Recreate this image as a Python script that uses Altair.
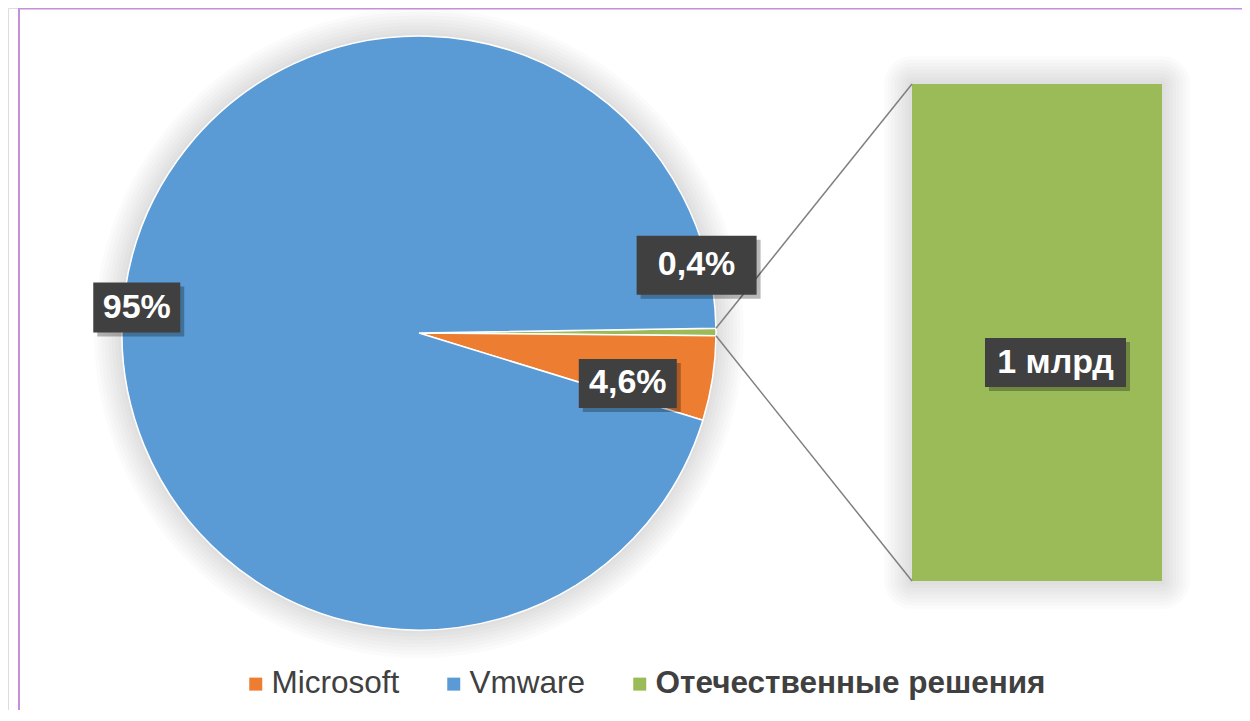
import math
import altair as alt
import pandas as pd

# ---------------- data ----------------
pie_categories = ["Отечественные решения", "Microsoft", "Vmware"]   # clockwise order in the pie
pie_shares = [0.4, 4.6, 95.0]                                      # percent
legend_order = ["Microsoft", "Vmware", "Отечественные решения"]
legend_colors = ["#ED7D31", "#5B9BD5", "#9BBB59"]
bar_categories = ["Отечественные решения"]
bar_values = [1]
bar_unit = "млрд"

# ---------------- layout (chart pixel coordinates) ----------------
W, H = 1234, 702
CX, CY, R = 411, 325, 297
START_DEG = 89.1
BAR_X0, BAR_X1, BAR_Y0, BAR_Y1 = 904, 1154, 76, 573
LABEL_R = 0.8 * R
label_nudge = {"Отечественные решения": (40, -67), "Microsoft": (-26, 14), "Vmware": (-47, 8)}
label_box = {"Отечественные решения": (120, 59), "Microsoft": (98, 49), "Vmware": (87, 50)}
BAR_LABEL_NUDGE = (18.5, 30)
BAR_LABEL_BOX = (141, 49)
FONT = "Liberation Sans"

XS = alt.Scale(domain=[0, W], range=[0, W], nice=False, zero=False)
YS = alt.Scale(domain=[0, H], range=[0, H], nice=False, zero=False)

# ---------------- derived tables ----------------
total = sum(pie_shares)
pie_df = pd.DataFrame({"cat": pie_categories, "share": pie_shares, "ord": list(range(len(pie_categories)))})

rows = []
cum = 0.0
angles = {}
for c, v in zip(pie_categories, pie_shares):
    a0 = START_DEG + 360 * cum / total
    cum += v
    a1 = START_DEG + 360 * cum / total
    angles[c] = (a0, a1)
    mid = math.radians((a0 + a1) / 2)
    dx, dy = label_nudge[c]
    bw, bh = label_box[c]
    lx = CX + LABEL_R * math.sin(mid) + dx
    ly = CY - LABEL_R * math.cos(mid) + dy
    txt = f"{v:g}".replace(".", ",") + "%"
    rows.append({"cat": c, "text": txt, "lx": lx, "ly": ly,
                 "bx0": lx - bw / 2, "bx1": lx + bw / 2, "by0": ly - bh / 2, "by1": ly + bh / 2})

# bar label
bcx = (BAR_X0 + BAR_X1) / 2 + BAR_LABEL_NUDGE[0]
bcy = (BAR_Y0 + BAR_Y1) / 2 + BAR_LABEL_NUDGE[1]
bw, bh = BAR_LABEL_BOX
rows.append({"cat": bar_categories[0], "text": f"{bar_values[0]} {bar_unit}", "lx": bcx, "ly": bcy,
             "bx0": bcx - bw / 2, "bx1": bcx + bw / 2, "by0": bcy - bh / 2, "by1": bcy + bh / 2})
label_df = pd.DataFrame(rows)

# connector lines from edges of the secondary slice to bar corners
g0, g1 = angles[bar_categories[0]]
conn_df = pd.DataFrame({
    "x": [CX + R * math.sin(math.radians(g0)), CX + R * math.sin(math.radians(g1))],
    "y": [CY - R * math.cos(math.radians(g0)), CY - R * math.cos(math.radians(g1))],
    "x2": [BAR_X0, BAR_X0],
    "y2": [BAR_Y0, BAR_Y1],
})

bar_df = pd.DataFrame({"cat": bar_categories, "val": bar_values})
one = pd.DataFrame({"k": [0]})

layers = []

# border
layers.append(alt.Chart(one).mark_rule(color="#C58FDC", strokeWidth=2).encode(
    x=alt.value(11), x2=alt.value(W + 5), y=alt.value(0.5)))
layers.append(alt.Chart(one).mark_rule(color="#C58FDC", strokeWidth=2).encode(
    x=alt.value(11), y=alt.value(0), y2=alt.value(H + 5)))

# soft glows
for k in range(1, 9):
    layers.append(alt.Chart(one).mark_arc(radius=R + 3.5 * k, theta=0, theta2=2 * math.pi,
                                          fill="black", fillOpacity=0.016).encode(
        x=alt.value(CX), y=alt.value(CY)))
    layers.append(alt.Chart(one).mark_rect(fill="black", fillOpacity=0.016, cornerRadius=3.5 * k).encode(
        x=alt.value(BAR_X0 - 3.5 * k), x2=alt.value(BAR_X1 + 3.5 * k),
        y=alt.value(BAR_Y0 - 3.5 * k), y2=alt.value(BAR_Y1 + 3.5 * k)))

# pie
pie = alt.Chart(pie_df).mark_arc(radius=R, stroke="white", strokeWidth=1.5).encode(
    theta=alt.Theta("share:Q", stack=True,
                    scale=alt.Scale(range=[math.radians(START_DEG), math.radians(START_DEG) + 2 * math.pi])),
    order=alt.Order("ord:Q"),
    color=alt.Color("cat:N", scale=alt.Scale(domain=legend_order, range=legend_colors),
                    legend=alt.Legend(orient="none", legendX=232, legendY=660, direction="horizontal",
                                      title=None, symbolType="square", symbolSize=169,
                                      symbolStrokeWidth=0, labelFont=FONT, labelFontSize=31.5,
                                      labelColor="#404040", labelOffset=0, columnPadding=38,
                                      labelLimit=800, padding=0,
                                      labelFontWeight=alt.ExprRef(
                                          expr="datum.label == 'Отечественные решения' ? 'bold' : 'normal'"))),
    x=alt.value(CX), y=alt.value(CY),
)
layers.append(pie)

# bar (pie-of-bar)
bar = alt.Chart(bar_df).mark_bar(color="#9BBB59").encode(
    x=alt.X("cat:N", axis=None, scale=alt.Scale(range=[BAR_X0, BAR_X1], paddingInner=0, paddingOuter=0)),
    y=alt.Y("val:Q", axis=None, scale=alt.Scale(domain=[0, sum(bar_values)], range=[BAR_Y1, BAR_Y0], nice=False)),
)
layers.append(bar)

# connectors
layers.append(alt.Chart(conn_df).mark_rule(color="#7F7F7F", strokeWidth=1.5).encode(
    x=alt.X("x:Q", scale=XS, axis=None), y=alt.Y("y:Q", scale=YS, axis=None), x2="x2:Q", y2="y2:Q"))

# label boxes (shadow + box) and texts
layers.append(alt.Chart(label_df).mark_rect(fill="black", fillOpacity=0.28).encode(
    x=alt.X("sx0:Q", scale=XS, axis=None), x2="sx1:Q",
    y=alt.Y("sy0:Q", scale=YS, axis=None), y2="sy1:Q").transform_calculate(
    sx0="datum.bx0 + 4", sx1="datum.bx1 + 4", sy0="datum.by0 + 4", sy1="datum.by1 + 4"))
layers.append(alt.Chart(label_df).mark_rect(fill="#404040").encode(
    x=alt.X("bx0:Q", scale=XS, axis=None), x2="bx1:Q",
    y=alt.Y("by0:Q", scale=YS, axis=None), y2="by1:Q"))
layers.append(alt.Chart(label_df).mark_text(font=FONT, fontSize=34, fontWeight="bold", color="white",
                                            align="center", baseline="middle").encode(
    x=alt.X("lx:Q", scale=XS, axis=None), y=alt.Y("ly:Q", scale=YS, axis=None), text="text:N"))

chart = alt.layer(*layers).resolve_scale(x="independent", y="independent").properties(
    width=W, height=H, autosize=alt.AutoSizeParams(type="none"), padding=0,
).configure_view(stroke=None).configure(background="white")

chart.save("out.html", embed_options={"renderer": "svg", "actions": False})
